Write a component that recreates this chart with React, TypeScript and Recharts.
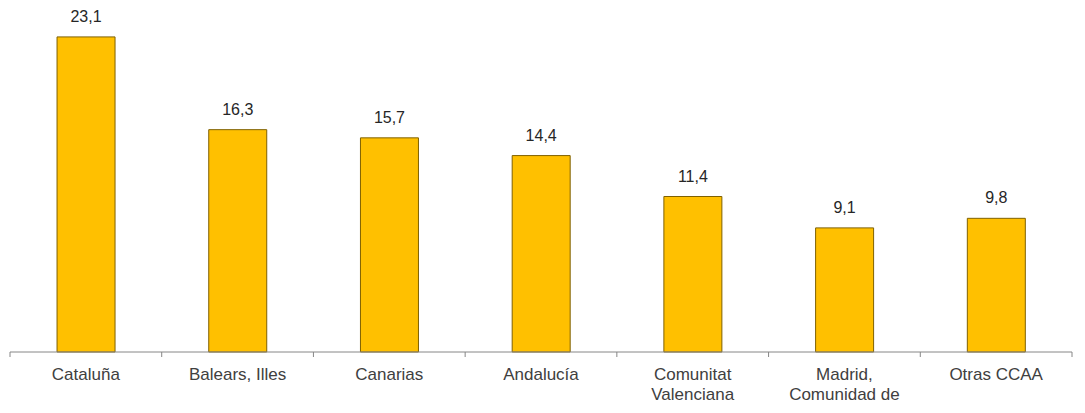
import { BarChart, Bar, XAxis, YAxis, LabelList } from "recharts";

const categories = [
  "Cataluña",
  "Balears, Illes",
  "Canarias",
  "Andalucía",
  "Comunitat Valenciana",
  "Madrid, Comunidad de",
  "Otras CCAA",
];
const values = [23.1, 16.3, 15.7, 14.4, 11.4, 9.1, 9.8];
// how each category label breaks into lines under the axis
const tickLines: Record<string, string[]> = {
  "Comunitat Valenciana": ["Comunitat", "Valenciana"],
  "Madrid, Comunidad de": ["Madrid,", "Comunidad de"],
};

const data = categories.map((name, i) => ({ name, value: values[i] }));

const FONT = "'Liberation Sans', Arial, sans-serif";
const AXIS = "#868686";

// label plus the small separator marks between categories
// eslint-disable-next-line @typescript-eslint/no-explicit-any
const CategoryTick = ({ x, y, payload, width, visibleTicksCount, index }: any) => {
  const lines = tickLines[payload.value] ?? [payload.value];
  const half = width / visibleTicksCount / 2;
  const last = index === visibleTicksCount - 1;
  return (
    <g>
      <line x1={x - half} x2={x - half} y1={y} y2={y + 5} stroke={AXIS} />
      {last && <line x1={x + half} x2={x + half} y1={y} y2={y + 5} stroke={AXIS} />}
      <text
        x={x}
        y={y}
        textAnchor="middle"
        fill="#404040"
        fontSize={17}
        fontFamily={FONT}
      >
        {lines.map((line: string, i: number) => (
          <tspan key={i} x={x} dy={i === 0 ? 28 : 20}>
            {line}
          </tspan>
        ))}
      </text>
    </g>
  );
};

export default function App() {
  return (
    <div style={{ position: "absolute", left: 0, top: 0, background: "#fff" }}>
      <BarChart
        width={1085}
        height={413}
        data={data}
        margin={{ top: 11, right: 13, bottom: 21, left: 10 }}
        barCategoryGap="31%"
      >
        <YAxis hide domain={[0, 25]} />
        <XAxis
          dataKey="name"
          axisLine={{ stroke: AXIS }}
          tickLine={false}
          tickSize={0}
          tickMargin={0}
          tick={<CategoryTick />}
          interval={0}
          height={40}
        />
        <Bar
          dataKey="value"
          fill="#FFC000"
          stroke="#7F6000"
          strokeWidth={1}
          isAnimationActive={false}
        >
          <LabelList
            dataKey="value"
            position="top"
            offset={15}
            formatter={(v: number) => v.toFixed(1).replace(".", ",")}
            style={{ fill: "#262626", fontSize: 16, fontFamily: FONT }}
          />
        </Bar>
      </BarChart>
    </div>
  );
}
